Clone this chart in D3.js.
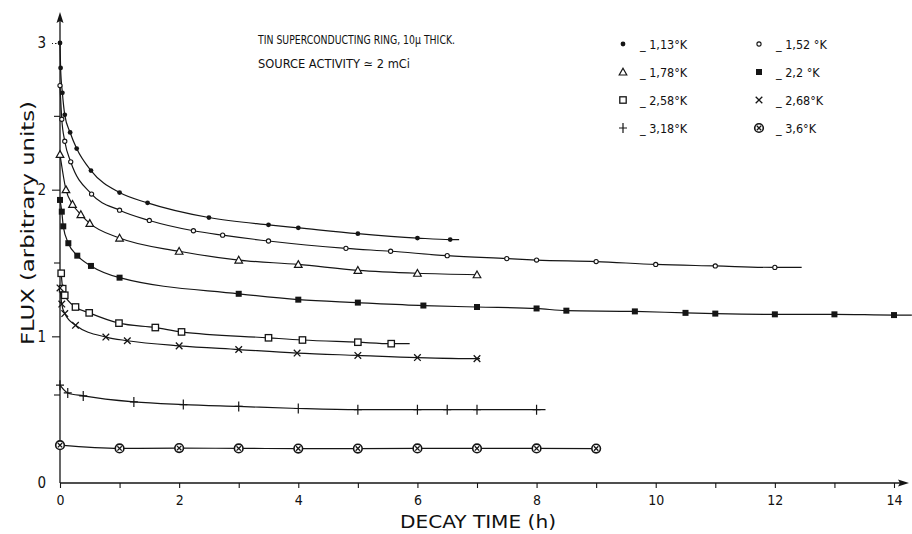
<!DOCTYPE html>
<html>
<head>
<meta charset="utf-8">
<script src="https://cdn.jsdelivr.net/npm/d3@7"></script>
<style>
  html, body { margin: 0; padding: 0; background: #fff; }
  svg { display: block; }
  text { font-family: "DejaVu Sans Condensed", "DejaVu Sans", sans-serif; fill: #111; }
</style>
</head>
<body>
<svg id="chart" width="912" height="534"></svg>
<script>
// ---------------- data ----------------
const legendLabels = ["_ 1,13°K", "_ 1,52 °K", "_ 1,78°K", "_ 2,2 °K", "_ 2,58°K", "_ 2,68°K", "_ 3,18°K", "_ 3,6°K"];
const markerTypes  = ["dot", "ring", "triangle", "fsquare", "square", "cross", "plus", "circx"];

const t113 = [0, 0.01, 0.04, 0.08, 0.17, 0.28, 0.52, 1.0, 1.47, 2.5, 3.5, 4.0, 5.0, 6.0, 6.55];
const f113 = [3.0, 2.83, 2.66, 2.51, 2.39, 2.28, 2.13, 1.98, 1.91, 1.81, 1.76, 1.74, 1.70, 1.67, 1.66];

const t152 = [0, 0.03, 0.08, 0.18, 0.53, 1.0, 1.5, 2.24, 2.73, 3.5, 4.8, 5.55, 6.5, 7.5, 8.0, 9.0, 10.0, 11.0, 12.0];
const f152 = [2.71, 2.48, 2.33, 2.19, 1.97, 1.86, 1.79, 1.72, 1.69, 1.65, 1.60, 1.58, 1.55, 1.53, 1.52, 1.51, 1.49, 1.48, 1.47];

const t178 = [0, 0.1, 0.21, 0.35, 0.5, 1.0, 2.0, 3.0, 4.0, 5.0, 6.0, 7.0];
const f178 = [2.24, 2.0, 1.90, 1.83, 1.77, 1.67, 1.58, 1.52, 1.49, 1.45, 1.43, 1.42];

const t220 = [0, 0.03, 0.055, 0.14, 0.29, 0.52, 1.0, 3.0, 4.0, 5.0, 6.1, 7.0, 8.0, 8.5, 9.65, 10.5, 11.0, 12.0, 13.0, 14.0];
const f220 = [1.93, 1.85, 1.75, 1.635, 1.55, 1.48, 1.40, 1.29, 1.25, 1.23, 1.21, 1.20, 1.19, 1.175, 1.17, 1.16, 1.155, 1.15, 1.15, 1.145];

const t258 = [0.02, 0.045, 0.08, 0.26, 0.49, 0.99, 1.6, 2.04, 3.5, 4.07, 5.0, 5.56];
const f258 = [1.43, 1.325, 1.28, 1.20, 1.16, 1.09, 1.06, 1.03, 0.99, 0.975, 0.96, 0.95];

const t268 = [0, 0.03, 0.08, 0.26, 0.77, 1.13, 2.0, 3.0, 3.98, 5.0, 6.0, 7.0];
const f268 = [1.33, 1.22, 1.155, 1.075, 0.995, 0.97, 0.935, 0.91, 0.886, 0.87, 0.855, 0.848];

const t318 = [0, 0.13, 0.39, 1.24, 2.07, 3.0, 4.0, 5.0, 6.0, 6.5, 7.0, 8.0];
const f318 = [0.667, 0.614, 0.594, 0.553, 0.535, 0.522, 0.508, 0.50, 0.50, 0.50, 0.50, 0.50];

const t360 = [0, 1, 2, 3, 4, 5, 6, 7, 8, 9];
const f360 = [0.258, 0.236, 0.238, 0.236, 0.235, 0.235, 0.236, 0.236, 0.236, 0.235];

// time where each hand-drawn line stops
const lineEnd = [6.7, 12.45, 7.0, 14.3, 5.87, 7.05, 8.15, 9.0];

const xTickValues = [0,1,2,3,4,5,6,7,8,9,10,11,12,13,14];
const xTickLabels = [0,2,4,6,8,10,12,14];
const yTickLabels = [0,1,2,3];
const yMinorTicks = [0.6, 1.5, 2.5];

const times = [t113, t152, t178, t220, t258, t268, t318, t360];
const fluxes = [f113, f152, f178, f220, f258, f268, f318, f360];

// ---------------- chart ----------------
const svg = d3.select("#chart");
const x = d3.scaleLinear().domain([0, 14]).range([60, 894]);
const y = d3.scaleLinear().domain([0, 3]).range([483, 43]);
const ink = "#151515";
const fontFam = "\"DejaVu Sans Condensed\", \"DejaVu Sans\", sans-serif";

// axes
const g = svg.append("g");
g.append("line").attr("x1", x(0)).attr("x2", 906).attr("y1", y(0)).attr("y2", y(0))
  .attr("stroke", ink).attr("stroke-width", 1.3);
g.append("line").attr("x1", x(0)).attr("x2", x(0)).attr("y1", y(0)).attr("y2", 15)
  .attr("stroke", ink).attr("stroke-width", 1.3);
// arrows
g.append("path").attr("d", `M909,${y(0)} L898,${y(0)-3.5} L900,${y(0)} L898,${y(0)+3.5} Z`).attr("fill", ink);
g.append("path").attr("d", `M${x(0)},12 L${x(0)-3.5},23 L${x(0)},21 L${x(0)+3.5},23 Z`).attr("fill", ink);

// x ticks
const xAxis = d3.axisBottom(x).tickValues(xTickValues).tickSize(5)
  .tickFormat(d => xTickLabels.includes(d) ? d : "");
const xg = svg.append("g").attr("transform", `translate(0,${y(0)})`).call(xAxis);
xg.select(".domain").remove();
xg.selectAll(".tick line").attr("stroke", ink).attr("stroke-width", 1.1);
xg.selectAll(".tick text").attr("dy", 0).attr("y", 22)
  .style("font-size", "14px").style("font-family", fontFam).attr("fill", ink);

// y ticks
const yAxis = d3.axisLeft(y).tickValues(yTickLabels).tickSize(8).tickFormat(d3.format("d"));
const yg = svg.append("g").attr("transform", `translate(${x(0)},0)`).call(yAxis);
yg.select(".domain").remove();
yg.selectAll(".tick line").attr("stroke", ink).attr("stroke-width", 1.1)
  .attr("stroke-dasharray", d => d === 3 ? "1.5,2" : null)
  .attr("opacity", d => d === 0 ? 0 : 1);
yg.selectAll(".tick text").attr("x", -14)
  .style("font-size", "15px").style("font-family", fontFam).attr("fill", ink);
svg.append("g").selectAll("line").data(yMinorTicks).join("line")
  .attr("x1", x(0) - 6).attr("x2", x(0)).attr("y1", d => y(d)).attr("y2", d => y(d))
  .attr("stroke", ink).attr("stroke-width", 1.1);

// axis titles
svg.append("text").attr("transform", "translate(34,223) rotate(-90)")
  .attr("text-anchor", "middle").style("font-size", "18px")
  .attr("textLength", 244).attr("lengthAdjust", "spacingAndGlyphs")
  .text("FLUX (arbitrary units)");
svg.append("text").attr("x", 478).attr("y", 528).attr("text-anchor", "middle")
  .style("font-size", "18px").attr("textLength", 156).attr("lengthAdjust", "spacingAndGlyphs")
  .text("DECAY TIME (h)");

// annotation
svg.append("text").attr("x", 258).attr("y", 44).style("font-size", "12.5px")
  .attr("textLength", 197).attr("lengthAdjust", "spacingAndGlyphs")
  .text("TIN SUPERCONDUCTING RING, 10μ THICK.");
svg.append("text").attr("x", 258).attr("y", 68).style("font-size", "12.5px")
  .attr("textLength", 152).attr("lengthAdjust", "spacingAndGlyphs")
  .text("SOURCE ACTIVITY    ≃ 2 mCi");

// markers
function drawMarker(sel, type, cx, cy) {
  const s = sel.append("g").attr("transform", `translate(${cx},${cy})`);
  switch (type) {
    case "dot": s.append("circle").attr("r", 2.4).attr("fill", ink); break;
    case "ring": s.append("circle").attr("r", 2.1).attr("fill", "#fff").attr("stroke", ink).attr("stroke-width", 1.1); break;
    case "triangle": s.append("path").attr("d", "M0,-3.8 L3.8,3 L-3.8,3 Z").attr("fill", "#fff").attr("stroke", ink).attr("stroke-width", 1.2); break;
    case "fsquare": s.append("rect").attr("x", -3).attr("y", -3).attr("width", 6).attr("height", 6).attr("fill", ink); break;
    case "square": s.append("rect").attr("x", -3.2).attr("y", -3.2).attr("width", 6.4).attr("height", 6.4).attr("fill", "#fff").attr("stroke", ink).attr("stroke-width", 1.3); break;
    case "cross": s.append("path").attr("d", "M-3.3,-3.3 L3.3,3.3 M-3.3,3.3 L3.3,-3.3").attr("stroke", ink).attr("stroke-width", 1.3); break;
    case "plus": s.append("path").attr("d", "M-4,0 L4,0 M0,-5 L0,5").attr("stroke", ink).attr("stroke-width", 1.2); break;
    case "circx":
      s.append("circle").attr("r", 4.3).attr("fill", "#fff").attr("stroke", ink).attr("stroke-width", 1.6);
      s.append("path").attr("d", "M-2.2,-2.2 L2.2,2.2 M-2.2,2.2 L2.2,-2.2").attr("stroke", ink).attr("stroke-width", 1.3);
      break;
  }
}

// series lines + markers
const line = d3.line().x(d => x(d[0])).y(d => y(d[1])).curve(d3.curveMonotoneX);
const plot = svg.append("g");
times.forEach((ts, i) => {
  const pts = ts.map((t, j) => [t, fluxes[i][j]]);
  const last = pts[pts.length - 1];
  const linePts = lineEnd[i] > last[0] ? pts.concat([[lineEnd[i], last[1]]]) : pts;
  plot.append("path").attr("d", line(linePts)).attr("fill", "none")
    .attr("stroke", ink).attr("stroke-width", 1.2);
});
times.forEach((ts, i) => {
  ts.forEach((t, j) => drawMarker(plot, markerTypes[i], x(t), y(fluxes[i][j])));
});

// legend
const legCols = [623, 759];
const legRows = [44, 72, 100, 128];
legendLabels.forEach((lab, i) => {
  const cx = legCols[i % 2], cy = legRows[Math.floor(i / 2)];
  drawMarker(svg, markerTypes[i], cx, cy);
  svg.append("text").attr("x", cx + 17).attr("y", cy + 4.5).style("font-size", "12.5px").text(lab);
});
</script>
</body>
</html>
